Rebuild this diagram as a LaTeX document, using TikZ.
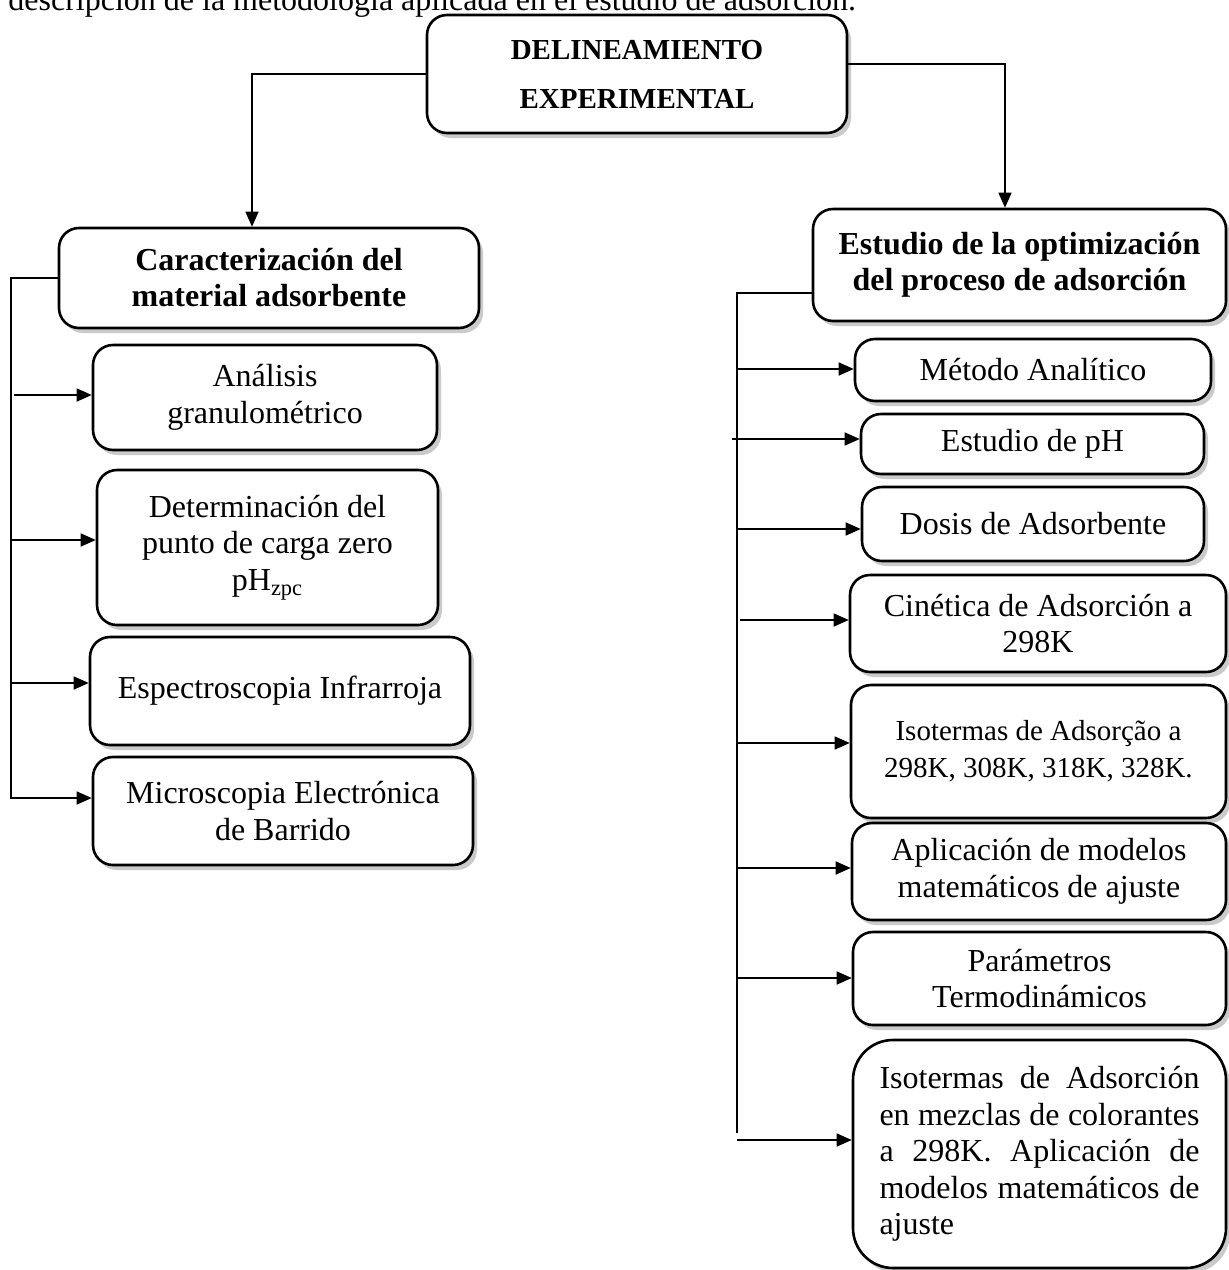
\documentclass[tikz,border=0pt]{standalone}
\usepackage{fontspec}
\setmainfont{Liberation Serif}
\usetikzlibrary{arrows.meta,shadows}

\begin{document}
\begin{tikzpicture}[x=0.5pt, y=-0.5pt]
\tikzstyle{box}=[draw, line width=1.3pt, rounded corners=10pt, fill=white, inner sep=0pt, align=center, drop shadow={shadow xshift=2pt, shadow yshift=-2.5pt, fill=black!35, opacity=.6}, font=\fontsize{16}{18.25}\selectfont]
\tikzstyle{head}=[box, font=\fontsize{16}{18}\selectfont\bfseries]
\tikzstyle{arrow}=[-{Triangle[length=7.5pt, width=6.5pt]}, line width=0.8pt]
\tikzstyle{link}=[line width=0.8pt]
\useasboundingbox (0,0) rectangle (1228,1270);
\node (T) [anchor=base west, inner sep=0pt, font=\fontsize{16}{18}\selectfont] at (8,10) {descripción de la metodología aplicada en el estudio de adsorción.};
\node (R) [head, minimum width=210pt, minimum height=59pt, font=\fontsize{14.5}{24.5}\selectfont\bfseries] at (637,74) {DELINEAMIENTO\\EXPERIMENTAL};
\node (A) [head, minimum width=210pt, minimum height=50pt] at (269,278) {Caracterización del\\material adsorbente};
\draw [arrow] (R.west) -| ([xshift=-8.5pt]A.north);
\node (B) [head, minimum width=206.5pt, minimum height=56pt] at (1019.5,265) {Estudio de la optimización\\del proceso de adsorción};
\draw [arrow] ([yshift=5pt]R.east) -| ([xshift=-7.25pt]B.north);
\node (C) [box, minimum width=172pt, minimum height=52.5pt] at (265,397.5) {Análisis\\granulométrico};
\node (D) [box, minimum width=170.5pt, minimum height=77.5pt] at (267.5,547.5) {Determinación del\\punto de carga zero\\pH\textsubscript{zpc}};
\node (E) [box, minimum width=190pt, minimum height=54pt] at (280,691) {Espectroscopia Infrarroja};
\node (F) [box, minimum width=190pt, minimum height=54pt] at (283,811) {Microscopia Electrónica\\de Barrido};
\coordinate (P) at (11,798);
\draw [arrow] (A.west) -| (P) -- (P -| F.west);
\coordinate (P1) at (14,395);
\coordinate (P2) at (11,540);
\coordinate (P3) at (11,683);
\draw [arrow] (P1) -- (P1 -| C.west);
\draw [arrow] (P2) -- (P2 -| D.west);
\draw [arrow] (P3) -- (P3 -| E.west);
\node (G) [box, minimum width=178pt, minimum height=31pt] at (1033,370) {Método Analítico};
\node (H) [box, minimum width=171.5pt, minimum height=30pt] at (1032.5,444) {Estudio de pH};
\node (I) [box, minimum width=171pt, minimum height=37pt] at (1033,524) {Dosis de Adsorbente};
\node (J) [box, minimum width=188pt, minimum height=48.5pt] at (1038,623.5) {Cinética de Adsorción a\\298K};
\node (K) [box, minimum width=187.5pt, minimum height=66.5pt, font=\fontsize{14.5}{18.5}\selectfont] at (1038.5,751.5) {Isotermas de Adsorção a\\298K, 308K, 318K, 328K.};
\node (L) [box, minimum width=187pt, minimum height=48.5pt] at (1039,871.5) {Aplicación de modelos\\matemáticos de ajuste};
\node (M) [box, minimum width=186.5pt, minimum height=46.5pt] at (1039.5,978.5) {Parámetros\\Termodinámicos};
\node (N) [box, minimum width=186.5pt, minimum height=114pt, rounded corners=20pt, text width=160pt, align=justify] at (1039.5,1154) {Isotermas de Adsorción\linebreak en mezclas de colorantes\linebreak a 298K. Aplicación de\linebreak modelos matemáticos de\linebreak ajuste};
\coordinate (Q0) at (737,1133);
\draw [link] ([yshift=-14pt]B.west) -| (Q0);
\coordinate (Q1) at (736,369);
\coordinate (Q2) at (732,439);
\coordinate (Q3) at (737,529);
\coordinate (Q4) at (740,620);
\coordinate (Q5) at (737,743);
\coordinate (Q6) at (737,868);
\coordinate (Q7) at (737,978);
\coordinate (Q8) at (737,1140);
\draw [arrow] (Q1) -- (Q1 -| G.west);
\draw [arrow] (Q2) -- (Q2 -| H.west);
\draw [arrow] (Q3) -- (Q3 -| I.west);
\draw [arrow] (Q4) -- (Q4 -| J.west);
\draw [arrow] (Q5) -- (Q5 -| K.west);
\draw [arrow] (Q6) -- (Q6 -| L.west);
\draw [arrow] (Q7) -- (Q7 -| M.west);
\draw [arrow] (Q8) -- (Q8 -| N.west);
\end{tikzpicture}
\end{document}
